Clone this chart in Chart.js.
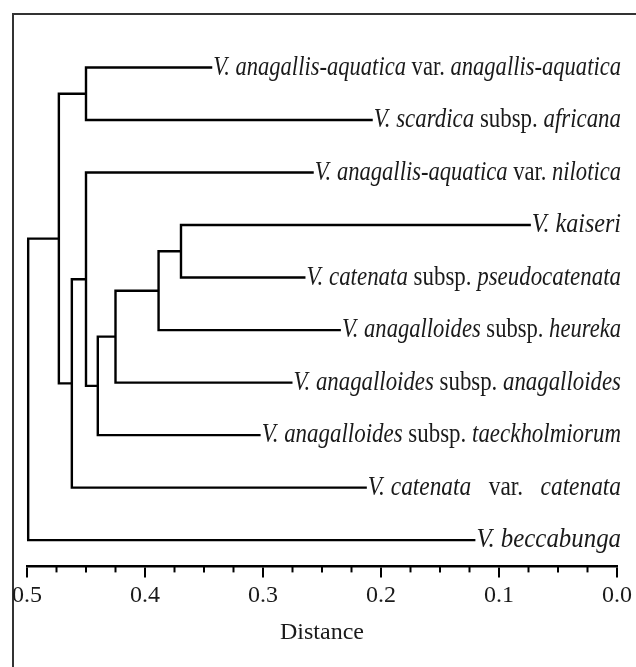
<!DOCTYPE html>
<html><head><meta charset="utf-8">
<script src="https://cdn.jsdelivr.net/npm/chart.js@4.4.0/dist/chart.umd.min.js"></script>
<style>html,body{margin:0;padding:0;background:#fff;}#wrap{width:636px;height:667px;}</style>
</head><body><div id="wrap"><canvas id="c" width="636" height="667"></canvas></div>
<script>
// ---- DATA ----
// leaf labels: segments of [text, italic?]
const leafLabels = [
  [["V. anagallis-aquatica", true], [" var. ", false], ["anagallis-aquatica", true]],
  [["V. scardica", true], [" subsp. ", false], ["africana", true]],
  [["V. anagallis-aquatica", true], [" var. ", false], ["nilotica", true]],
  [["V. kaiseri", true]],
  [["V. catenata", true], [" subsp. ", false], ["pseudocatenata", true]],
  [["V. anagalloides", true], [" subsp. ", false], ["heureka", true]],
  [["V. anagalloides", true], [" subsp. ", false], ["anagalloides", true]],
  [["V. anagalloides", true], [" subsp. ", false], ["taeckholmiorum", true]],
  [["V. catenata", true], ["   var.   ", false], ["catenata", true]],
  [["V. beccabunga", true]]
];
// distance at which each leaf branch ends (where its label begins)
const leafEnds = [0.343, 0.207, 0.257, 0.073, 0.264, 0.234, 0.275, 0.302, 0.212, 0.120];
// merges (node index = 10 + merge index)
const mergeLeft    = [3, 10, 11, 12, 2, 0, 14, 15, 17];
const mergeRight   = [4, 5, 6, 7, 13, 1, 8, 16, 9];
const mergeHeights = [0.3695, 0.3885, 0.425, 0.440, 0.450, 0.450, 0.462, 0.473, 0.499];
const majorTicks = [0.0, 0.1, 0.2, 0.3, 0.4, 0.5];
const minorTicks = [0.025, 0.05, 0.075, 0.125, 0.15, 0.175, 0.225, 0.25, 0.275, 0.325, 0.35, 0.375, 0.425, 0.45, 0.475];
const axisTitle = "Distance";

// ---- build tree segments ----
const nLeaves = leafLabels.length;
const nodeY = [], nodeX = [];
for (let i = 0; i < nLeaves; i++) { nodeY[i] = i; nodeX[i] = leafEnds[i]; }
const datasets = [];
mergeHeights.forEach((h, k) => {
  const a = mergeLeft[k], b = mergeRight[k];
  const id = nLeaves + k;
  nodeY[id] = (nodeY[a] + nodeY[b]) / 2;
  nodeX[id] = h;
  datasets.push({
    data: [{x: nodeX[a], y: nodeY[a]}, {x: h, y: nodeY[a]}, {x: h, y: nodeY[b]}, {x: nodeX[b], y: nodeY[b]}],
    showLine: true, borderColor: '#000', borderWidth: 2.4, pointRadius: 0, tension: 0, fill: false, clip: false,
    borderJoinStyle: 'miter'
  });
});

const FONT = "'Liberation Serif', 'Times New Roman', serif";

const framePlugin = {
  id: 'frame',
  beforeDraw(chart) {
    const ctx = chart.ctx;
    ctx.save();
    ctx.fillStyle = '#fff';
    ctx.fillRect(0, 0, chart.width, chart.height);
    ctx.strokeStyle = '#333';
    ctx.lineWidth = 2;
    ctx.beginPath();
    ctx.moveTo(13, chart.height + 5);
    ctx.lineTo(13, 14);
    ctx.lineTo(chart.width + 5, 14);
    ctx.stroke();
    ctx.restore();
  }
};

const labelPlugin = {
  id: 'leafLabels',
  afterDraw(chart) {
    const ctx = chart.ctx;
    const xs = chart.scales.x, ys = chart.scales.y;
    const size = 28;
    const right = 621;
    ctx.save();
    ctx.fillStyle = '#1a1a1a';
    ctx.textBaseline = 'alphabetic';
    leafLabels.forEach((segs, i) => {
      const startX = xs.getPixelForValue(leafEnds[i]) + 1;
      const y = ys.getPixelForValue(i) + size * 0.25;
      let total = 0;
      const widths = segs.map(([t, it]) => {
        ctx.font = (it ? 'italic ' : '') + size + 'px ' + FONT;
        const w = ctx.measureText(t).width; total += w; return w;
      });
      const sx = (right - startX) / total;
      ctx.save();
      ctx.translate(startX, y);
      ctx.scale(sx, 1);
      let cx = 0;
      segs.forEach(([t, it], j) => {
        ctx.font = (it ? 'italic ' : '') + size + 'px ' + FONT;
        ctx.fillText(t, cx, 0);
        cx += widths[j];
      });
      ctx.restore();
    });
    // minor ticks
    const yb = chart.chartArea.bottom;
    ctx.strokeStyle = '#000';
    ctx.lineWidth = 2;
    minorTicks.forEach(v => {
      const px = xs.getPixelForValue(v);
      ctx.beginPath();
      ctx.moveTo(px, yb);
      ctx.lineTo(px, yb + 6);
      ctx.stroke();
    });
    ctx.restore();
  }
};

new Chart(document.getElementById('c'), {
  type: 'scatter',
  data: { datasets },
  options: {
    responsive: false,
    animation: false,
    devicePixelRatio: 1,
    layout: { padding: { left: 27, right: 19, top: 15, bottom: 16 } },
    plugins: { legend: { display: false }, tooltip: { enabled: false } },
    scales: {
      x: {
        type: 'linear', position: 'bottom', reverse: true, min: 0, max: 0.5,
        afterBuildTicks(scale) { scale.ticks = majorTicks.map(v => ({value: v})); },
        ticks: {
          color: '#1a1a1a', padding: 4, autoSkip: false, maxRotation: 0,
          font: { family: FONT, size: 24 },
          callback: v => Number(v).toFixed(1)
        },
        grid: { display: true, drawOnChartArea: false, drawTicks: true, tickLength: 11, color: '#000', lineWidth: 2 },
        border: { display: true, color: '#000', width: 2.5 },
        title: { display: true, text: axisTitle, color: '#1a1a1a', font: { family: FONT, size: 24 }, padding: { top: 4, bottom: 4 } }
      },
      y: { type: 'linear', reverse: true, min: -1, max: 9.5, display: false }
    }
  },
  plugins: [framePlugin, labelPlugin]
});
</script>
</body></html>
